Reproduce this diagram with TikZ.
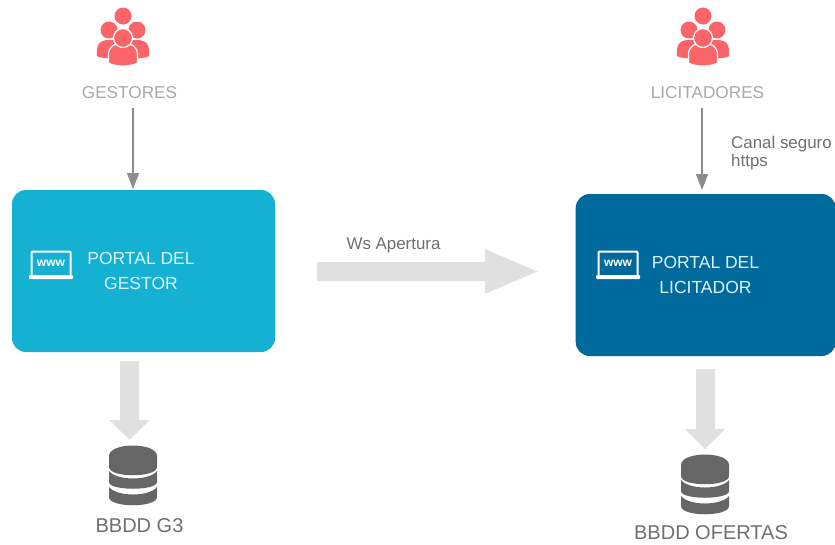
\documentclass[tikz,border=0pt]{standalone}
\usepackage{fontspec}
\setmainfont{Liberation Sans}
\usetikzlibrary{arrows.meta}
\definecolor{coral}{HTML}{FB6468}
\definecolor{lbl}{HTML}{A9A9A9}
\definecolor{txt}{HTML}{6F6F6F}
\definecolor{cyanbox}{HTML}{14B1D3}
\definecolor{bluebox}{HTML}{006A9C}
\definecolor{blockgr}{HTML}{E0E0E0}
\definecolor{thin}{HTML}{8C8C8C}
\definecolor{dbgr}{HTML}{666666}
\tikzset{
  x=1pt,y=-1pt,
  lab/.style={font=\fontsize{17.2}{20}\selectfont,text=lbl,inner sep=0pt,anchor=center},
  note/.style={font=\fontsize{16.9}{18}\selectfont,text=txt,inner sep=0pt,align=left},
  dbl/.style={font=\fontsize{20}{24}\selectfont,text=txt,inner sep=0pt},
  portal/.style={rounded corners=14pt,inner sep=0pt,minimum width=263pt,minimum height=162pt},
  ptext/.style={font=\fontsize{17.5}{25}\selectfont,text=white!85!cyan,inner sep=0pt,align=center},
  thinarrow/.style={draw=thin,line width=1.1pt,-{Triangle[length=16pt,width=12pt]}},
  blockarrow/.style={draw=blockgr,line width=19pt,-{Triangle[length=20pt,width=39pt]}},
  bigarrow/.style={draw=blockgr,line width=19pt,-{Triangle[length=55pt,width=40pt]}},
  people/.pic={
    \fill[coral] (-26,19) .. controls (-27,8) and (-24,3) .. (-14,3) -- (14,3) .. controls (24,3) and (27,8) .. (26,19) .. controls (22,23) and (-22,23) .. (-26,19) -- cycle;
    \fill[coral] (-14,-7) circle (8.5);
    \fill[coral] (14,-7) circle (8.5);
    \fill[coral] (0,-21) circle (8.5);
    \fill[coral,draw=white,line width=1.2pt] (-14.5,26) -- (-14.5,18) .. controls (-14.5,9) and (-8,6) .. (0,6) .. controls (8,6) and (14.5,9) .. (14.5,18) -- (14.5,26) .. controls (8,30) and (-8,30) .. (-14.5,26) -- cycle;
    \fill[coral,draw=white,line width=1.2pt] (0,1) circle (9.5);
  },
  www/.pic={
    \draw[white,line width=2pt,rounded corners=1pt] (-19.5,10) -- (-19.5,-13.5) -- (19.5,-13.5) -- (19.5,10);
    \fill[white,rounded corners=1pt] (-22,10) rectangle (22,14);
    \node[font=\fontsize{12}{12}\bfseries\selectfont,text=white,inner sep=0pt] at (0,-2) {www};
  },
  database/.pic={
    \fill[dbgr] (-24,-19) .. controls (-24,-33) and (24,-33) .. (24,-19) -- (24,-8) .. controls (24,3) and (-24,3) .. (-24,-8) -- cycle;
    \fill[dbgr] (-24,-4) .. controls (-16,6) and (16,6) .. (24,-4) -- (24,7) .. controls (24,16) and (-24,16) .. (-24,7) -- cycle;
    \fill[dbgr] (-24,12) .. controls (-16,22) and (16,22) .. (24,12) -- (24,22) .. controls (24,33) and (-24,33) .. (-24,22) -- cycle;
  }
}
\begin{document}
\begin{tikzpicture}
\useasboundingbox (0,0) rectangle (835,544);
\pic at (123,37) {people};
\pic at (703,37) {people};
\node[lab] (gest) at (129.5,92.5) {GESTORES};
\node[lab] (lici) at (707.5,92.5) {LICITADORES};
\node[portal,fill=cyanbox] (pg) at (143.5,271) {};
\node[portal,fill=bluebox,minimum width=260pt,anchor=west] (pl) at (575.5,275) {};
\pic at (51,265) {www};
\pic at (618,265) {www};
\node[ptext] (pgt) at (141,271) {PORTAL DEL\\GESTOR};
\node[ptext] (plt) at (705.5,275) {PORTAL DEL\\LICITADOR};
\node[note,anchor=west] (canal) at (731,153) {Canal seguro\\https};
\node[note] (ws) at (393.5,245) {Ws Apertura};
\pic at (133,475) {database};
\pic at (705,484) {database};
\node[dbl] (dbgl) at (139.5,526) {BBDD G3};
\node[dbl] (dbol) at (711,533) {BBDD OFERTAS};
\coordinate (g1) at (133,108);
\coordinate (g2) at (133,189);
\coordinate (l1) at (702,108);
\coordinate (l2) at (702,190);
\coordinate (wsa) at (317,271.5);
\coordinate (wsb) at (540,271.5);
\coordinate (b1) at (129.5,361);
\coordinate (b2) at (129.5,440);
\coordinate (o1) at (705,369);
\coordinate (o2) at (705,449);
\draw[thinarrow] (g1) -- (g2);
\draw[thinarrow] (l1) -- (l2);
\draw[bigarrow] (wsa) -- (wsb);
\draw[blockarrow] (b1) -- (b2);
\draw[blockarrow] (o1) -- (o2);
\end{tikzpicture}
\end{document}
